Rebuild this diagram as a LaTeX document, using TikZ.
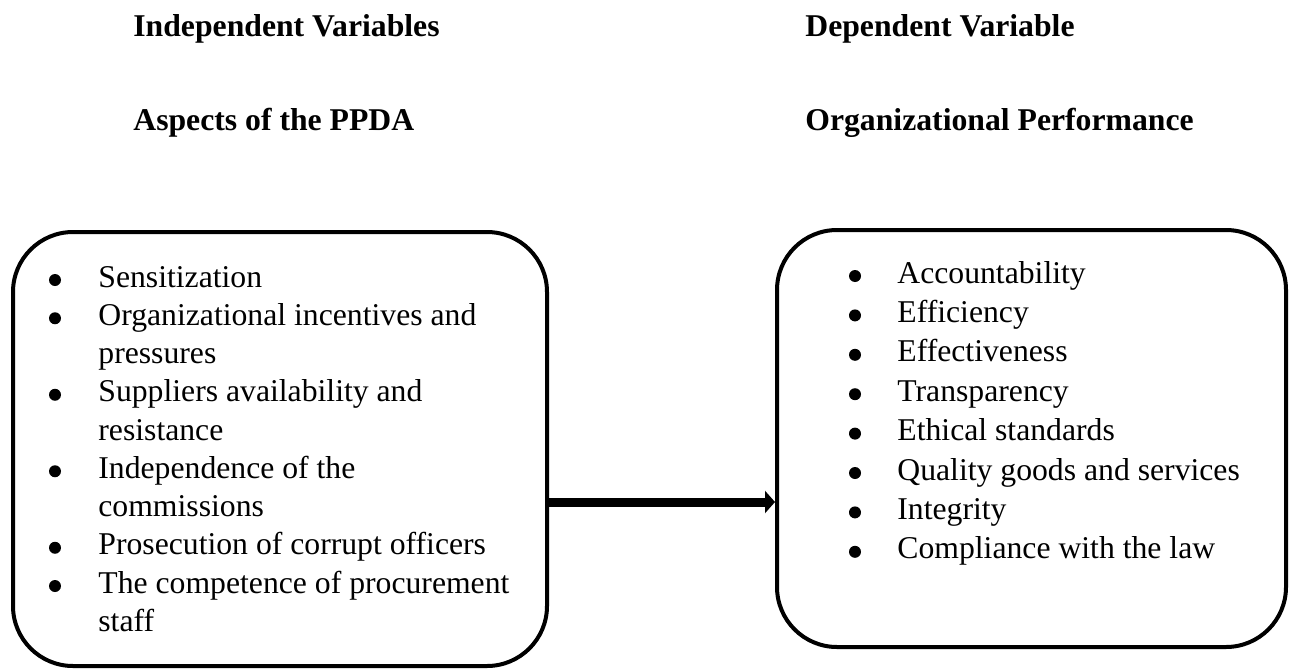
\documentclass[tikz,border=0pt]{standalone}
\usepackage{fontspec}
\setmainfont{Liberation Serif}
\usetikzlibrary{arrows.meta}
\tikzset{
  box/.style={draw, line width=2pt, rounded corners=30pt, inner sep=0pt},
  hdr/.style={anchor=base west, inner sep=0pt, font=\fontsize{15.85pt}{19pt}\selectfont\bfseries},
  itm/.style={anchor=base west, inner sep=0pt, font=\fontsize{15.85pt}{19pt}\selectfont},
  bul/.style={circle, fill, inner sep=0pt, minimum size=6pt},
  conn/.style={line width=4.5pt, -{Triangle[width=11pt,length=5pt]}}
}
\begin{document}
\begin{tikzpicture}[x=1pt,y=1pt]
\useasboundingbox (0,0) rectangle (645.5,-334.5);
% headers
\node[hdr] (h1) at (66.5,-18) {Independent Variables};
\node[hdr] (h2) at (66.5,-65) {Aspects of the PPDA};
\node[hdr] (h3) at (402.5,-18) {Dependent Variable};
\node[hdr] (h4) at (402.5,-65) {Organizational Performance};
% boxes
\node[box, minimum width=267pt, minimum height=217pt] (lbox) at (140,-224.5) {};
\node[box, minimum width=254.5pt, minimum height=208.5pt] (rbox) at (515.75,-219.25) {};
% left list
\foreach \k/\b/\t in {0/1/Sensitization,
                       1/1/Organizational incentives and,
                       2/0/pressures,
                       3/1/Suppliers availability and,
                       4/0/resistance,
                       5/1/Independence of the,
                       6/0/commissions,
                       7/1/Prosecution of corrupt officers,
                       8/1/The competence of procurement,
                       9/0/staff}{
  \node[itm] (l\k) at (49,{-143.5-\k*19.125}) {\t};
  \ifnum\b=1 \node[bul] (lb\k) at (27.5,{-140-\k*19.125}) {};\fi
}
% right list
\foreach \k/\t in {0/Accountability,
                   1/Efficiency,
                   2/Effectiveness,
                   3/Transparency,
                   4/Ethical standards,
                   5/Quality goods and services,
                   6/Integrity,
                   7/Compliance with the law}{
  \node[itm] (r\k) at (448.5,{-141.5-\k*19.7}) {\t};
  \node[bul] (rb\k) at (427.5,{-138-\k*19.7}) {};
}
% connector
\coordinate (arow) at (0,-251);
\draw[conn] (lbox.east |- arow) -- (rbox.west |- arow);
\end{tikzpicture}
\end{document}
